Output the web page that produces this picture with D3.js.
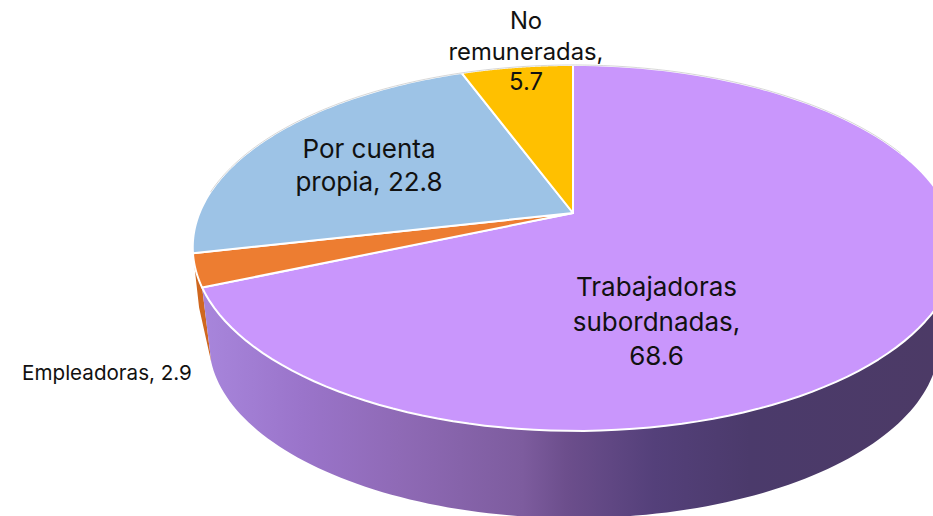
<!DOCTYPE html>
<html><head><meta charset="utf-8">
<style>html,body{margin:0;padding:0;background:#fff;overflow:hidden}svg{display:block}text{font-family:Inter,"Noto Sans",sans-serif;fill:#111}</style>
<script src="https://cdn.jsdelivr.net/npm/d3@7"></script></head><body>
<script>
const categories = ["Trabajadoras subordnadas","Empleadoras","Por cuenta propia","No remuneradas"];
const values = [68.6,2.9,22.8,5.7];
const sliceColors = ["#c996fc","#ed7d31","#9dc3e6","#ffc000"];
const orangeWallColor = "#cf671f";
const labelLines = [["Trabajadoras","subordnadas,","68.6"],["Empleadoras, 2.9"],["Por cuenta","propia, 22.8"],["No","remuneradas,","5.7"]];

const W=933,H=516;
const svg=d3.select("body").append("svg").attr("width",W).attr("height",H).attr("viewBox",[0,0,W,H]);
const pie=d3.pie().sort(null).value(d=>d)(values);

// perspective mapping of the unit disc, top ellipse and (shrunk, shifted) bottom ellipse
const a=375,b=176.3,k=0.191;
const apex=[573,213];
const top0={x:573,y:213,s:1,sh:3}, bot0={x:574,y:310,s:0.955,sh:0};
function proj(t,P){
  const u=Math.sin(t),v=Math.cos(t),d=1+k*v;
  return [P.x+P.s*a*u/d+P.sh*(1-v)/2, P.y-P.s*b*v/d];
}
const line=d3.line();
const arcPts=(t0,t1,P)=>d3.range(0,121).map(i=>proj(t0+(t1-t0)*i/120,P));

const defs=svg.append("defs");
const g=defs.append("linearGradient").attr("id","wall").attr("gradientUnits","userSpaceOnUse")
  .attr("x1",200).attr("x2",933).attr("y1",0).attr("y2",0);
[[0,"#a886dc"],[0.14,"#9a74ca"],[0.27,"#8f6ab6"],[0.44,"#7d5c9e"],[0.5,"#6c4e8c"],[0.62,"#54407a"],[0.75,"#4b3a6b"],[1,"#4c3a66"]]
  .forEach(s=>g.append("stop").attr("offset",s[0]).attr("stop-color",s[1]));

// front wall
const tRight=0.49*Math.PI;
const orangeBottom=pie[0].endAngle+0.105;
const rimEnd=proj(pie[1].endAngle,top0), lowEnd=proj(orangeBottom,bot0);
const bulge=[(rimEnd[0]+lowEnd[0])/2-3,(rimEnd[1]+lowEnd[1])/2];
const orangeWall=[...arcPts(pie[0].endAngle,pie[1].endAngle,top0),bulge,lowEnd];
const purpleWall=arcPts(tRight,pie[0].endAngle,top0).concat(arcPts(orangeBottom,tRight,bot0));
svg.append("path").attr("d",d3.line().curve(d3.curveLinearClosed)(orangeWall)).attr("fill",orangeWallColor);
svg.append("path").attr("d",line(purpleWall)+"Z").attr("fill","url(#wall)");

// top slices
svg.selectAll("path.slice").data(pie).join("path").attr("class","slice")
  .attr("d",d=>line([apex,...arcPts(d.startAngle,d.endAngle,top0)])+"Z")
  .attr("fill",(d,i)=>sliceColors[i]).attr("stroke","#fff").attr("stroke-width",2).attr("stroke-linejoin","round");
// faint grey far rim
svg.append("path").attr("d",line(arcPts(-1.45,1.2,top0))).attr("fill","none").attr("stroke","#bdbdbd").attr("stroke-width",1).attr("opacity",.6);

// labels
const labelAnchors=[[656.5,296,26,34.5],[107,380,20.6,0],[369,158,26,32.5],[526,29,23.8,30.5]];
const lab=svg.selectAll("g.lab").data(labelLines).join("g").attr("class","lab");
lab.each(function(lines,i){
  const [x,y,fs,lh]=labelAnchors[i];
  d3.select(this).selectAll("text").data(lines).join("text")
    .attr("x",x).attr("y",(d,j)=>y+j*lh).attr("text-anchor","middle").attr("font-size",fs).text(d=>d);
});
</script></body></html>
